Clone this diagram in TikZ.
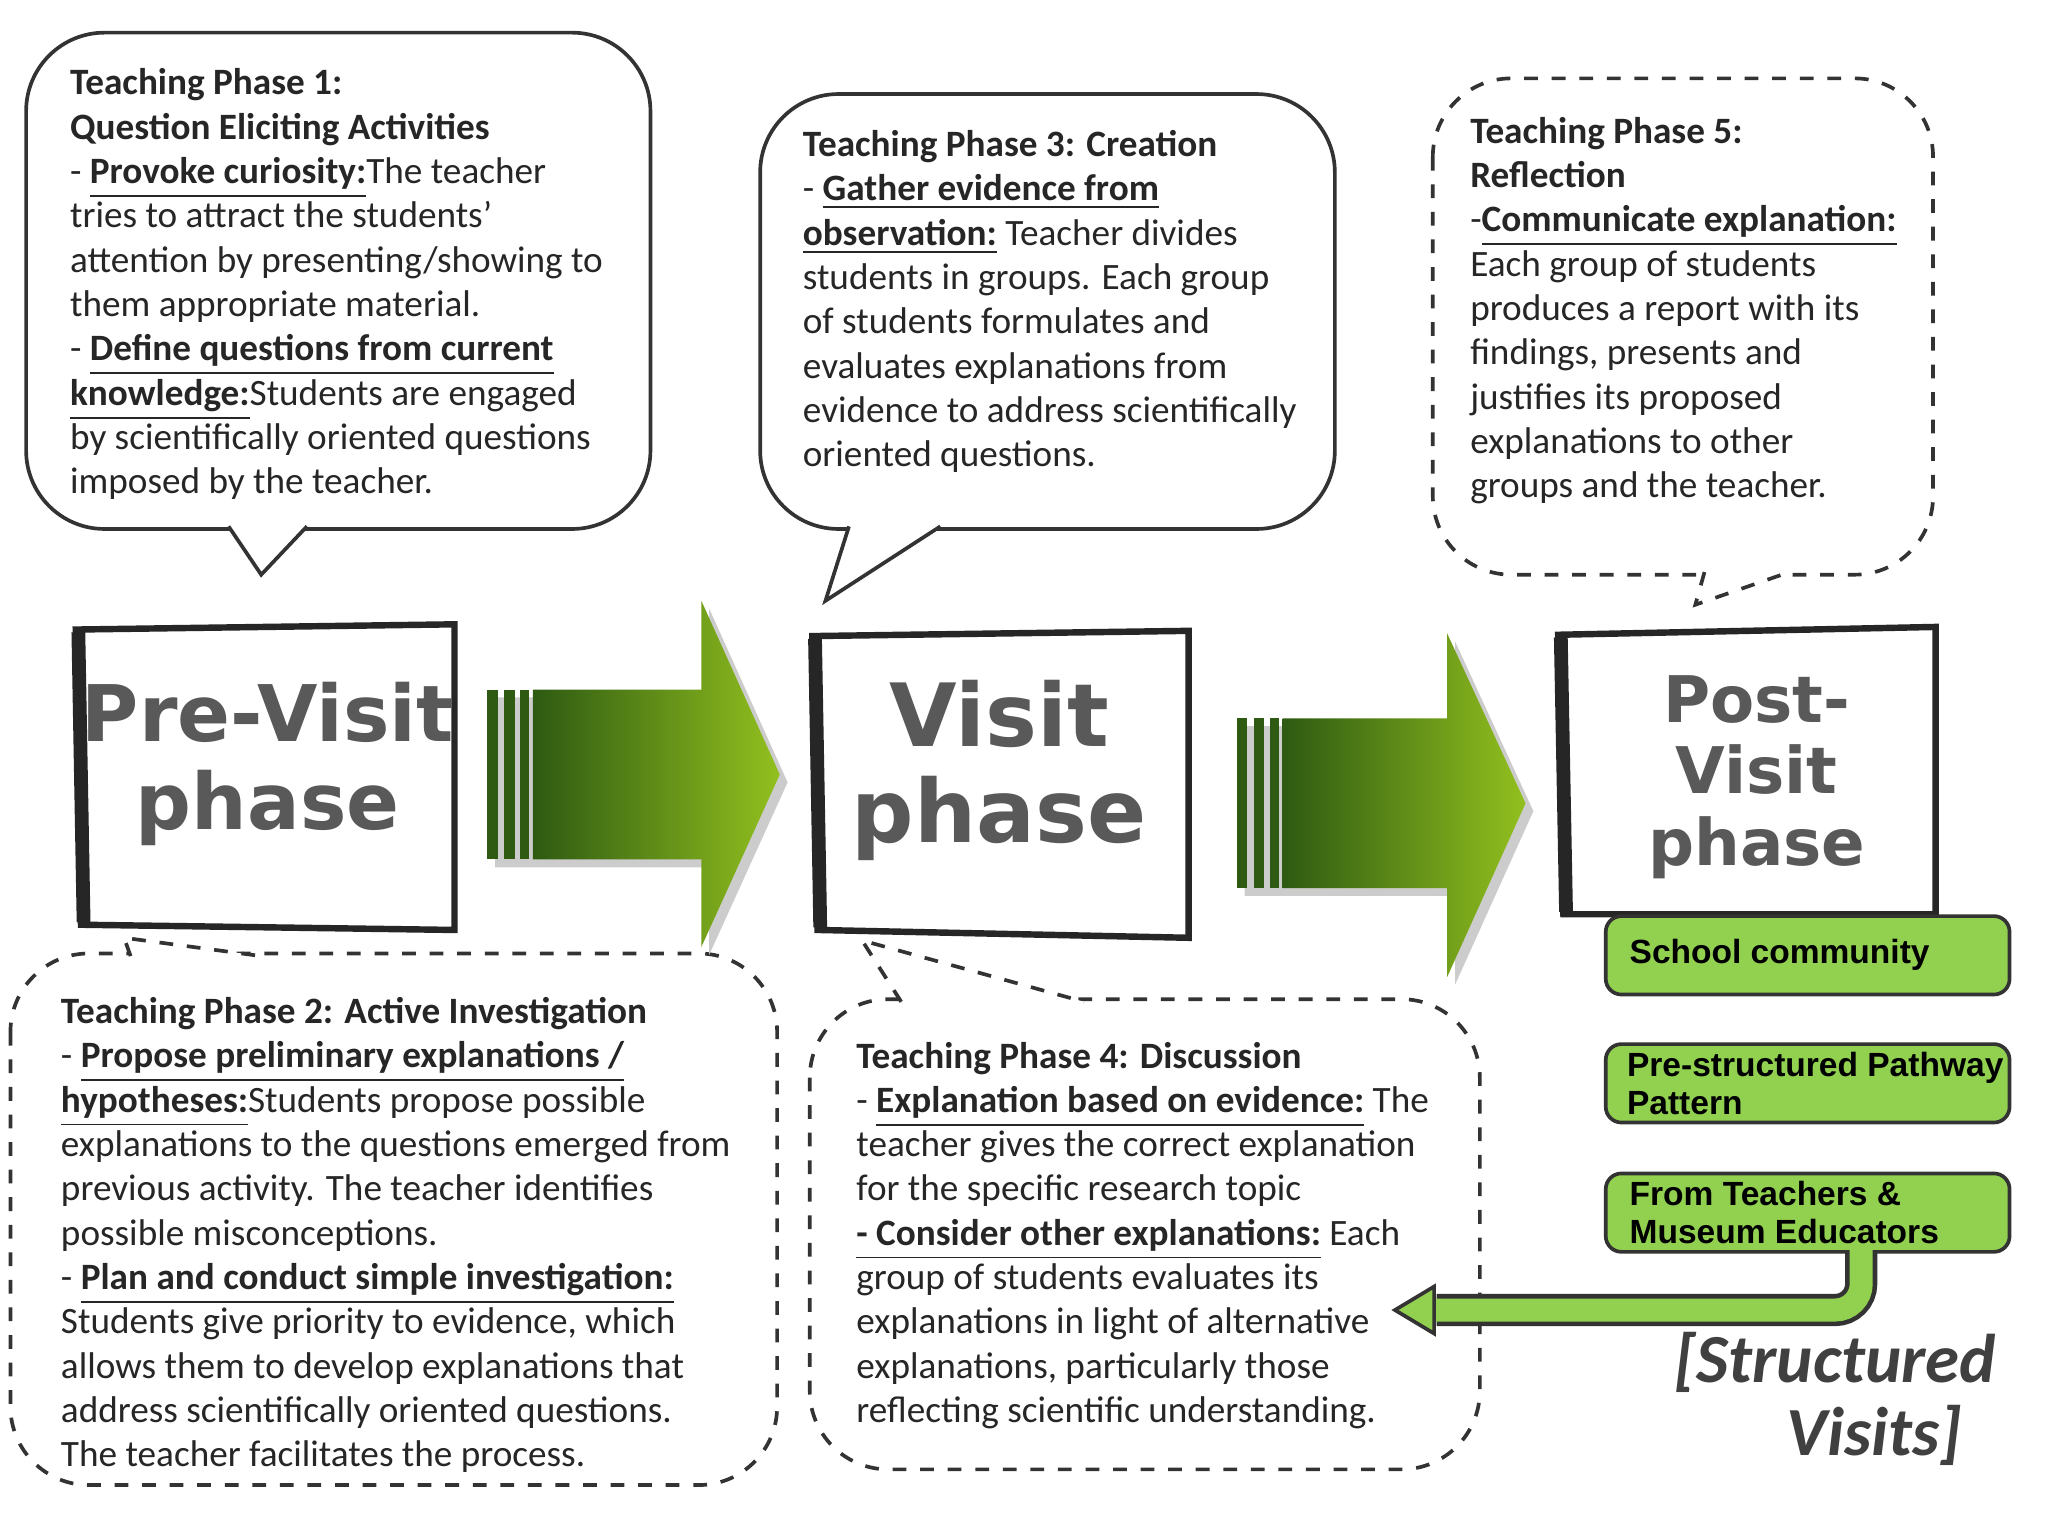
\documentclass[tikz,border=0pt]{standalone}
\usepackage{fontspec}
\setmainfont{Carlito}
\newfontfamily\bigfont{DejaVu Sans}
\newfontfamily\arialf{Liberation Sans}
\usetikzlibrary{arrows.meta}
\definecolor{gdark}{HTML}{2E5A12}
\definecolor{glight}{HTML}{92C01E}
\definecolor{gbox}{HTML}{92D050}
\tikzset{
 x=0.01cm,y=-0.01cm,
 bub/.style={draw=black!80,line width=0.8pt,rounded corners=0.6cm,fill=white},
 bubtxt/.style={anchor=north west,align=left,inner sep=0pt,font=\fontsize{8.1}{9.65}\selectfont,text=black!85},
 phase/.style={draw=black!85,line width=1.4pt,fill=white},
 phtxt/.style={align=center,font=\bigfont\bfseries\fontsize{17}{19}\selectfont,text=black!65},
 gb/.style={draw=black!80,line width=0.8pt,rounded corners=0.12cm,fill=gbox,anchor=north west,minimum width=3.09cm,minimum height=0.6cm},
 gbt/.style={anchor=west,align=left,inner sep=0pt,font=\arialf\bfseries\fontsize{7.3}{8.3}\selectfont},
}
\newcommand{\bubble}[8]{%
 \draw[bub,#8] (#1,#2) rectangle (#3,#4);
 \fill[white] #5 -- #6 -- #7 -- cycle;
 \draw[black!80,line width=0.8pt,#8] #5 -- #6 -- #7;}
\newcommand{\garrow}[6]{%
 \fill[black!20] (#1+6,#3+6) -- (#2-54,#3+6) -- (#2-54,#5+6) -- (#2+6,{(#3+#4)/2+6}) -- (#2-54,#6+6) -- (#2-54,#4+6) -- (#1+6,#4+6) -- cycle;
 \shade[left color=gdark,right color=glight] (#1+35,#3) -- (#2-60,#3) -- (#2-60,#5) -- (#2,{(#3+#4)/2}) -- (#2-60,#6) -- (#2-60,#4) -- (#1+35,#4) -- cycle;
 \fill[gdark] (#1,#3) rectangle (#1+8,#4);
 \fill[gdark] (#1+13,#3) rectangle (#1+21,#4);
 \fill[gdark] (#1+25,#3) rectangle (#1+32,#4);}
\begin{document}
\begin{tikzpicture}
\path[use as bounding box,fill=white] (0,0) rectangle (1568,1176);

\bubble{20}{25}{498}{405}{(175,403)}{(200,440)}{(235,403)}{}
\bubble{582}{72}{1022}{405}{(650,403)}{(632,460)}{(720,403)}{}
\bubble{1097}{60}{1480}{440}{(1305,438)}{(1298,463)}{(1370,438)}{dashed}
\bubble{8}{730}{595}{1137}{(100,732)}{(95,718)}{(200,732)}{dashed}
\bubble{620}{765}{1133}{1125}{(690,767)}{(660,720)}{(830,767)}{dashed}

\node[bubtxt] (t1) at (53,52) {\textbf{Teaching Phase 1:}\\\textbf{Question Eliciting Activities}\\- \textbf{\underline{Provoke curiosity:}}The teacher\\tries to attract the students'\\attention by presenting/showing to\\them appropriate material.\\- \textbf{\underline{Define questions from current}}\\\textbf{\underline{knowledge:}}Students are engaged\\by scientifically oriented questions\\imposed by the teacher.};
\node[bubtxt] (t3) at (614,99) {\textbf{Teaching Phase 3: Creation}\\- \textbf{\underline{Gather evidence from}}\\\textbf{\underline{observation:}} Teacher divides\\students in groups. Each group\\of students formulates and\\evaluates explanations from\\evidence to address scientifically\\oriented questions.};
\node[bubtxt] (t5) at (1125,89) {\textbf{Teaching Phase 5:}\\\textbf{Reflection}\\-\textbf{\underline{Communicate explanation:}}\\Each group of students\\produces a report with its\\findings, presents and\\justifies its proposed\\explanations to other\\groups and the teacher.};
\node[bubtxt] (t2) at (46,763) {\textbf{Teaching Phase 2: Active Investigation}\\- \textbf{\underline{Propose preliminary explanations /}}\\\textbf{\underline{hypotheses:}}Students propose possible\\explanations to the questions emerged from\\previous activity. The teacher identifies\\possible misconceptions.\\- \textbf{\underline{Plan and conduct simple investigation:}}\\Students give priority to evidence, which\\allows them to develop explanations that\\address scientifically oriented questions.\\The teacher facilitates the process.};
\node[bubtxt] (t4) at (655,797) {\textbf{Teaching Phase 4: Discussion}\\- \textbf{\underline{Explanation based on evidence:}} The\\teacher gives the correct explanation\\for the specific research topic\\\textbf{\underline{- Consider other explanations:}} Each\\group of students evaluates its\\explanations in light of alternative\\explanations, particularly those\\reflecting scientific understanding.};

\draw[phase] (58,482) -- (348,478) -- (348,712) -- (62,708) -- cycle;
\draw[black!85,line width=3pt] (60,484) -- (64,706);
\node[phtxt] (pre) at (205,585) {Pre-Visit\\phase};
\draw[phase] (622,487) -- (910,483) -- (910,718) -- (626,712) -- cycle;
\draw[black!85,line width=3pt] (624,489) -- (628,710);
\node[phtxt,font=\bigfont\bfseries\fontsize{19}{21}\selectfont] (vis) at (765,590) {Visit\\phase};
\draw[phase] (1193,486) -- (1482,480) -- (1482,700) -- (1197,700) -- cycle;
\draw[black!85,line width=3pt] (1195,488) -- (1199,698);
\node[phtxt,font=\bigfont\bfseries\fontsize{14}{15.5}\selectfont] (post) at (1345,595) {Post-\\Visit\\phase};

\garrow{373}{597}{528}{658}{460}{725}
\garrow{947}{1168}{550}{680}{485}{748}

\node[gb] (g1) at (1228,700) {};
\node[gbt] at ([xshift=0.19cm]g1.west) {School community};
\node[gb] (g2) at (1228,798) {};
\node[gbt] at ([xshift=0.17cm]g2.west) {Pre-structured Pathway\\Pattern};
\node[gb] (g3) at (1228,897) {};
\node[gbt] at ([xshift=0.19cm]g3.west) {From Teachers \&\\Museum Educators};
\coordinate (tipA) at (1068,1003);
\draw[black!80,line width=7pt,rounded corners=0.2cm] (1425,958) |- (1100,1003);
\draw[gbox,line width=5pt,rounded corners=0.2cm] (1425,957) |- (1095,1003);
\fill[gbox,draw=black!80,line width=0.8pt] (tipA) -- (1098,985) -- (1098,1021) -- cycle;

\node[font=\bfseries\itshape\fontsize{15}{16}\selectfont,text=black!75,align=center] (sv) at (1405,1071) {[Structured\\\hspace*{0.6cm}Visits]};
\end{tikzpicture}
\end{document}
